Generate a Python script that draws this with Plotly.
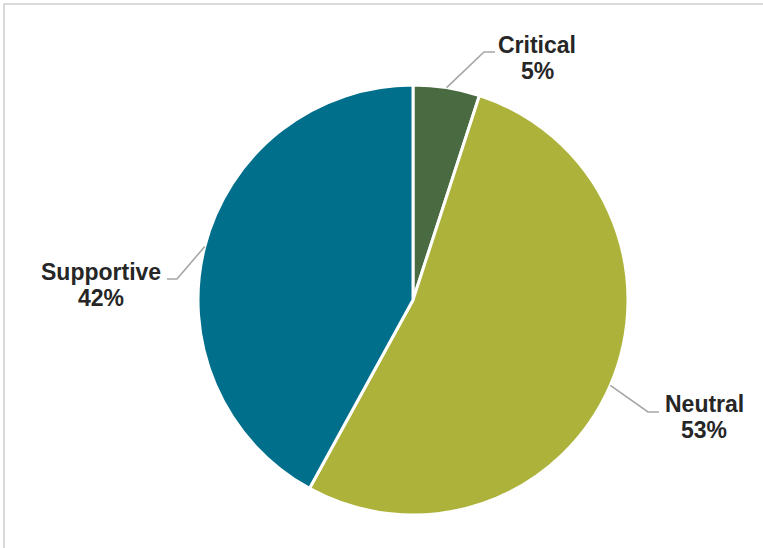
import math
import plotly.graph_objects as go

# ---- data ----
categories = ["Critical", "Neutral", "Supportive"]
values = [5, 53, 42]

# ---- style ----
colors = ["#4a6b42", "#adb33a", "#006f8c"]
W, H = 763, 548
CX, CY, R = 413, 300, 215
text_color = "#262626"
leader_color = "#a6a6a6"
FONT_SIZE = 23
LINE_GAP = 26
# label layout (pixel offsets relative to pie centre): elbow, end of horizontal, text centre (first line)
label_style = {
    "Critical":   dict(elbow=(71, -248), end=(82, -248), text=(124, -255)),
    "Neutral":    dict(elbow=(235, 112), end=(246, 112), text=(291, 104)),
    "Supportive": dict(elbow=(-236, -21), end=(-246, -21), text=(-312, -28)),
}

def px(x):
    return x / W

def py(y):
    return 1 - y / H

fig = go.Figure(go.Pie(
    labels=categories, values=values, sort=False, direction="clockwise", rotation=0,
    marker=dict(colors=colors, line=dict(color="white", width=3)),
    textinfo="none", hoverinfo="label+percent", showlegend=False,
    domain=dict(x=[px(CX - R), px(CX + R)], y=[py(CY + R), py(CY - R)]),
))

total = sum(values)
shapes = []
annotations = []
cum = 0
for cat, v in zip(categories, values):
    mid = (cum + v / 2) / total * 2 * math.pi
    cum += v
    sx = CX + R * math.sin(mid)
    sy = CY - R * math.cos(mid)
    st = label_style[cat]
    ex, ey = CX + st["elbow"][0], CY + st["elbow"][1]
    hx, hy = CX + st["end"][0], CY + st["end"][1]
    path = f"M {px(sx)},{py(sy)} L {px(ex)},{py(ey)} L {px(hx)},{py(hy)}"
    shapes.append(dict(type="path", xref="paper", yref="paper", path=path,
                       line=dict(color=leader_color, width=1.6)))
    pct = round(v / total * 100)
    tx, ty = CX + st["text"][0], CY + st["text"][1]
    for i, line in enumerate([cat, f"{pct}%"]):
        annotations.append(dict(
            x=px(tx), y=py(ty + i * LINE_GAP), xref="paper", yref="paper",
            text=f"<b>{line}</b>", showarrow=False, align="center",
            xanchor="center", yanchor="middle",
            font=dict(family="Liberation Sans, Arial, sans-serif", size=FONT_SIZE, color=text_color),
        ))

# outer chart border (top and left visible)
shapes.append(dict(type="rect", xref="paper", yref="paper",
                   x0=px(4), x1=1.2, y0=-0.2, y1=py(4),
                   line=dict(color="#d9d9d9", width=2), fillcolor="rgba(0,0,0,0)"))

fig.update_layout(
    width=W, height=H, margin=dict(l=0, r=0, t=0, b=0),
    paper_bgcolor="white", plot_bgcolor="white",
    shapes=shapes, annotations=annotations,
)

fig.write_html("out.html")
